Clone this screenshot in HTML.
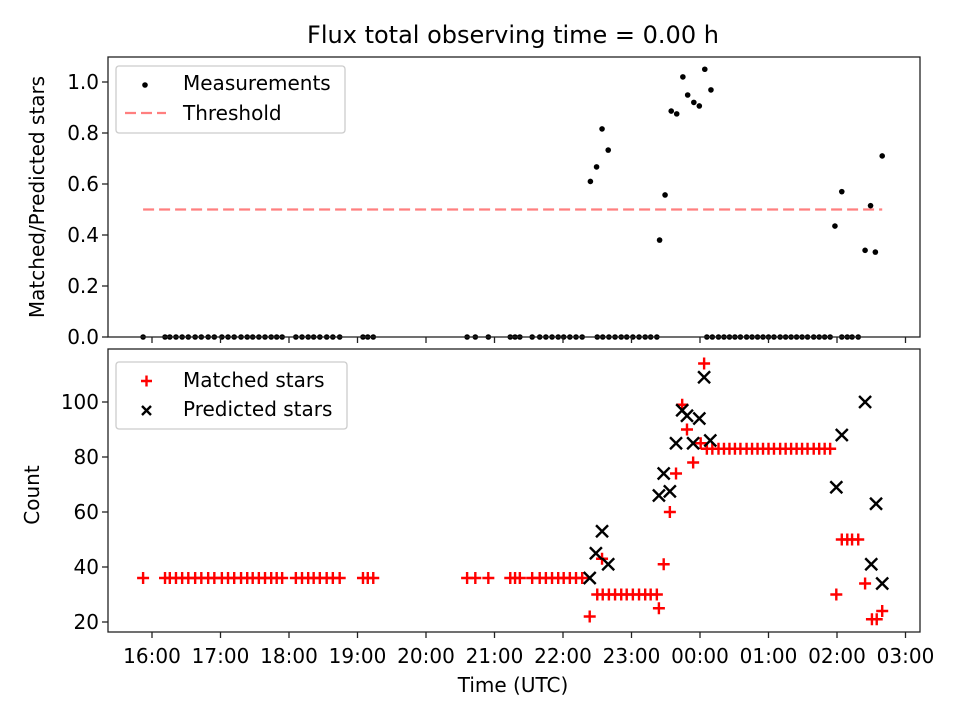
<!DOCTYPE html>
<html><head><meta charset="utf-8"><style>
body{margin:0;background:#fff}
svg{display:block;font-family:"DejaVu Sans","Liberation Sans",sans-serif}
</style></head><body>
<svg id="c" width="960" height="720"></svg>
<script>
// data (hours; >24 means after midnight)
const baseT=[15.87,16.19,16.26,16.35,16.44,16.53,16.63,16.72,16.82,16.91,17.02,17.11,17.20,17.30,17.39,17.47,17.56,17.65,17.74,17.82,17.90,18.10,18.19,18.28,18.36,18.45,18.55,18.64,18.74,19.08,19.15,19.23,20.60,20.72,20.91,21.23,21.30,21.37,21.55,21.66,21.75,21.84,21.93,22.01,22.10,22.19,22.28];
const baseV=36;
const row30T=[22.50,22.58,22.67,22.76,22.85,22.93,23.02,23.11,23.20,23.28,23.37];
const row30V=30;
const row83T=[24.10,24.18,24.27,24.35,24.43,24.51,24.59,24.68,24.76,24.84,24.92,25.00,25.08,25.17,25.25,25.33,25.41,25.49,25.57,25.66,25.74,25.82,25.90];
const row83V=83;
const row50T=[26.07,26.15,26.22,26.31];
const row50V=50;
const matchT=[22.39,22.57,23.40,23.47,23.56,23.65,23.74,23.81,23.90,24.01,24.06,25.99,26.41,26.51,26.58,26.66];
const matchV=[22,43,25,41,60,74,99,90,78,85,114,30,34,21,21,24];
const predT=[22.39,22.48,22.57,22.66,23.40,23.56,23.47,23.65,23.74,23.81,23.90,23.99,24.06,24.15,25.99,26.07,26.41,26.50,26.57,26.66];
const predV=[36,45,53,41,66,67.5,74,85,97,95,85,94,109,86,69,88,100,41,63,34];
const ratioT=[22.40,22.49,22.57,22.66,23.41,23.49,23.58,23.66,23.75,23.82,23.91,23.99,24.07,24.16,25.97,26.07,26.41,26.49,26.56,26.66];
const ratioV=[0.61,0.667,0.816,0.733,0.38,0.557,0.886,0.875,1.02,0.949,0.92,0.906,1.05,0.969,0.435,0.57,0.34,0.515,0.333,0.71];
const xTicks=[16,17,18,19,20,21,22,23,24,25,26,27];
const xLabels=["16:00","17:00","18:00","19:00","20:00","21:00","22:00","23:00","00:00","01:00","02:00","03:00"];
const yTopTicks=[0,0.2,0.4,0.6,0.8,1.0];
const yTopLabels=["0.0","0.2","0.4","0.6","0.8","1.0"];
const yBotTicks=[20,40,60,80,100];
const threshold=0.5, threshStart=15.87, threshEnd=26.66;

const NS="http://www.w3.org/2000/svg";
const svg=document.getElementById('c');
function mk(t,a,p){const e=document.createElementNS(NS,t);for(const k in a)e.setAttribute(k,a[k]);(p||svg).appendChild(e);return e;}
const L=108,R=920,T1=57,B1=337,T2=349,B2=632;
const FS=20;
const X=h=>152+(h-16)*68.5;
const Y1=v=>337-v*255;
const Y2=c=>622-(c-20)*2.75;

let e=mk('text',{x:513,y:43,'text-anchor':'middle','font-size':24});e.textContent='Flux total observing time = 0.00 h';



const gTop=mk('g',{});


e=mk('line',{x1:X(threshStart),x2:X(threshEnd),y1:Y1(threshold),y2:Y1(threshold),stroke:'#ff7f7f','stroke-width':2.3,'stroke-dasharray':'11,5'},gTop);


const zeroT=baseT.concat(row30T,row83T,row50T);
zeroT.forEach(t=>{const c=mk('circle',{cx:X(t),cy:Y1(0),r:2.8,fill:'#000'},gTop);

});
ratioT.forEach((t,i)=>{const c=mk('circle',{cx:X(t),cy:Y1(ratioV[i]),r:2.8,fill:'#000'},gTop);

});

const gBot=mk('g',{});


function plus(x,y,col){const g=mk('path',{d:`M${x-6},${y}h12M${x},${y-6}v12`,stroke:col,'stroke-width':2.4,fill:'none'},gBot);

}
function cross(x,y){const g=mk('path',{d:`M${x-6},${y-6}l12,12M${x-6},${y+6}l12,-12`,stroke:'#000','stroke-width':2.4,fill:'none'},gBot);

}
baseT.forEach(t=>plus(X(t),Y2(baseV),'red'));
row30T.forEach(t=>plus(X(t),Y2(row30V),'red'));
row83T.forEach(t=>plus(X(t),Y2(row83V),'red'));
row50T.forEach(t=>plus(X(t),Y2(row50V),'red'));
matchT.forEach((t,i)=>plus(X(t),Y2(matchV[i]),'red'));
predT.forEach((t,i)=>cross(X(t),Y2(predV[i])));

[[T1,B1,'top-axes-frame'],[T2,B2,'bottom-axes-frame']].forEach(([t,b,n])=>{const r=mk('rect',{x:L,y:t,width:R-L,height:b-t,fill:'none',stroke:'#222','stroke-width':1.3});

});

xTicks.forEach((h,i)=>{const x=X(h);
mk('line',{x1:x,x2:x,y1:B1,y2:B1+6,stroke:'#222','stroke-width':1.3});
mk('line',{x1:x,x2:x,y1:B2,y2:B2+6,stroke:'#222','stroke-width':1.3});
const t=mk('text',{x:x,y:663,'text-anchor':'middle','font-size':FS});t.textContent=xLabels[i];

});
yTopTicks.forEach((v,i)=>{const y=Y1(v);mk('line',{x1:L-6,x2:L,y1:y,y2:y,stroke:'#222','stroke-width':1.3});
const t=mk('text',{x:L-9,y:y+7,'text-anchor':'end','font-size':FS});t.textContent=yTopLabels[i];

});
yBotTicks.forEach(v=>{const y=Y2(v);mk('line',{x1:L-6,x2:L,y1:y,y2:y,stroke:'#222','stroke-width':1.3});
const t=mk('text',{x:L-9,y:y+7,'text-anchor':'end','font-size':FS});t.textContent=String(v);

});

e=mk('text',{x:513,y:692,'text-anchor':'middle','font-size':FS});e.textContent='Time (UTC)';


e=mk('text',{x:44,y:197,'text-anchor':'middle','font-size':FS,transform:'rotate(-90 44 197)'});e.textContent='Matched/Predicted stars';


e=mk('text',{x:39,y:495,'text-anchor':'middle','font-size':FS,transform:'rotate(-90 39 495)'});e.textContent='Count';



const lg1=mk('g',{});


mk('rect',{x:116,y:66,width:229,height:67,rx:3,fill:'#fff',stroke:'#ccc','stroke-width':1.3},lg1);
mk('circle',{cx:145,cy:85,r:2.8,fill:'#000'},lg1);
e=mk('text',{x:183,y:90,'font-size':FS},lg1);e.textContent='Measurements';


mk('line',{x1:125,x2:166,y1:113,y2:113,stroke:'#ff7f7f','stroke-width':2.3,'stroke-dasharray':'11,5'},lg1);
e=mk('text',{x:183,y:120,'font-size':FS},lg1);e.textContent='Threshold';


const lg2=mk('g',{});


mk('rect',{x:116,y:362,width:231,height:67,rx:3,fill:'#fff',stroke:'#ccc','stroke-width':1.3},lg2);
mk('path',{d:'M141,381h11M146.5,375.5v11',stroke:'red','stroke-width':2.4},lg2);
e=mk('text',{x:183,y:387,'font-size':FS},lg2);e.textContent='Matched stars';


mk('path',{d:'M142,406l9,9M142,415l9,-9',stroke:'#000','stroke-width':2.4},lg2);
e=mk('text',{x:183,y:416,'font-size':FS},lg2);e.textContent='Predicted stars';


</script>
</body></html>
